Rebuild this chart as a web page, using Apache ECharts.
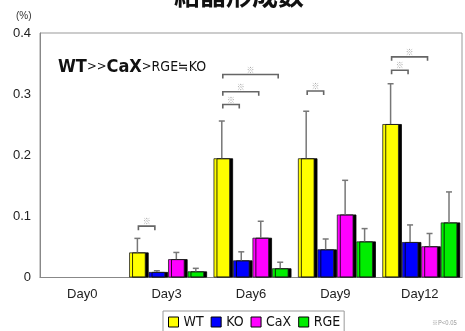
<!DOCTYPE html>
<html><head><meta charset="utf-8">
<script src="https://cdn.jsdelivr.net/npm/echarts@6/dist/echarts.min.js"></script>
<style>html,body{margin:0;padding:0;background:#fff}#c{width:465px;height:331px}</style>
</head><body><div id="c"></div>
<script>
const days = ['Day0', 'Day3', 'Day6', 'Day9', 'Day12'];
const seriesNames = ['WT', 'KO', 'CaX', 'RGE'];
const wt  = [0, 0.041, 0.195, 0.195, 0.251];
const ko  = [0, 0.009, 0.028, 0.046, 0.058];
const cax = [0, 0.030, 0.065, 0.103, 0.051];
const rge = [0, 0.010, 0.015, 0.059, 0.090];
const wtSD  = [0, 0.023, 0.061, 0.077, 0.066];
const koSD  = [0, 0.002, 0.014, 0.017, 0.028];
const caxSD = [0, 0.011, 0.027, 0.056, 0.021];
const rgeSD = [0, 0.005, 0.010, 0.021, 0.050];
const yTicks = [0, 0.1, 0.2, 0.3, 0.4];
// significance brackets: [dayIndex, fromSeries, toSeries, height]
const brackets = [[1,0,1,0.084],[2,0,1,0.283],[2,0,2,0.304],[2,0,3,0.332],[3,0,1,0.305],[4,0,1,0.339],[4,0,2,0.361]];

const colors = ['#ffff00', '#0000ff', '#ff00ff', '#00ee00'];
const means = [wt, ko, cax, rge];
const sds = [wtSD, koSD, caxSD, rgeSD];
const BW = 16.5, GAP = BW * 0.18;
const total = 4 * BW + 3 * GAP;
function offset(i) { return -total / 2 + i * (BW + GAP) + BW / 2; }
const NARROW = '"DejaVu Sans Condensed", "Liberation Sans", sans-serif';

const barSeries = seriesNames.map((n, i) => ({
  name: n, type: 'bar', barWidth: BW, barGap: '18%',
  data: means[i].map(v => v === 0 ? '-' : v),
  itemStyle: { color: colors[i], borderColor: '#222', borderWidth: 0.8,
    shadowColor: '#000', shadowBlur: 0, shadowOffsetX: 3, shadowOffsetY: 0 },
  emphasis: { disabled: true }, z: 2
}));

const errData = [];
means.forEach((m, i) => m.forEach((v, d) => { if (sds[i][d] > 0) errData.push([d, i, v, sds[i][d]]); }));

const errSeries = {
  type: 'custom', z: 5, silent: true, encode: { x: 0, y: 2 }, data: errData,
  renderItem: function (params, api) {
    const d = api.value(0), i = api.value(1), m = api.value(2), s = api.value(3);
    const x = api.coord([d, 0])[0] + offset(i);
    const yb = api.coord([d, m])[1];
    const yt = api.coord([d, m + s])[1];
    return { type: 'group', children: [
      { type: 'line', shape: { x1: x, y1: yb, x2: x, y2: yt }, style: { stroke: '#777', lineWidth: 1.5 } },
      { type: 'line', shape: { x1: x - 3, y1: yt, x2: x + 3, y2: yt }, style: { stroke: '#777', lineWidth: 1.5 } }
    ]};
  }
};

const brSeries = {
  type: 'custom', z: 6, silent: true, encode: { x: 0, y: 3 }, data: brackets,
  renderItem: function (params, api) {
    const d = api.value(0), a = api.value(1), b = api.value(2), h = api.value(3);
    const c = api.coord([d, h]);
    const x1 = c[0] + offset(a) + 1, x2 = c[0] + offset(b) - 2, y = c[1];
    return { type: 'group', children: [
      { type: 'polyline', shape: { points: [[x1, y + 4], [x1, y], [x2, y], [x2, y + 4]] },
        style: { stroke: '#666', lineWidth: 1.6, fill: null } },
      { type: 'text', x: (x1 + x2) / 2, y: y - 1,
        style: { text: '※', fill: '#aaa', fontSize: 8, align: 'center', verticalAlign: 'bottom', fontFamily: 'Noto Sans CJK JP' } }
    ]};
  }
};

const chart = echarts.init(document.getElementById('c'), null, { renderer: 'canvas' });
chart.setOption({
  animation: false,
  backgroundColor: '#fff',
  grid: { left: 40, right: 3, top: 33, bottom: 53.5, show: true, borderColor: '#999', borderWidth: 1 },
  xAxis: { type: 'category', data: days,
    axisLine: { lineStyle: { color: '#888', width: 1 } }, axisTick: { show: false },
    axisLabel: { color: '#222', fontSize: 13, margin: 10, fontFamily: 'Liberation Sans' } },
  yAxis: { type: 'value', min: yTicks[0], max: yTicks[yTicks.length - 1], interval: 0.1,
    splitLine: { show: false }, axisTick: { show: false },
    axisLine: { show: true, lineStyle: { color: '#888' } },
    axisLabel: { color: '#222', fontSize: 13, margin: 9, fontFamily: 'Liberation Sans',
      formatter: v => v === 0 ? '0' : v.toFixed(1) } },
  legend: { data: seriesNames, left: 163, top: 311, padding: [4, 4, 4, 5],
    borderColor: '#999', borderWidth: 1, itemWidth: 10, itemHeight: 10, itemGap: 7,
    icon: 'rect',
    itemStyle: { borderColor: '#000', borderWidth: 1, shadowColor: 'transparent', shadowOffsetX: 0 },
    textStyle: { fontSize: 14, color: '#111', fontFamily: NARROW } },
  graphic: [
    { type: 'text', x: 239, y: -18, style: { text: '結晶形成数', fontSize: 26, fontWeight: 'bold', fill: '#111', align: 'center', verticalAlign: 'top', fontFamily: 'Noto Sans CJK JP' } },
    { type: 'text', x: 16, y: 11, style: { text: '(%)', fontSize: 10, fill: '#333', fontFamily: 'Liberation Sans' } },
    { type: 'text', x: 58, y: 67, style: {
        text: '{a|WT}{b|>>}{a|CaX}{b|>}{c|RGE≒KO}', verticalAlign: 'middle',
        rich: {
          a: { fontSize: 18, fontWeight: 'bold', fill: '#111', fontFamily: NARROW },
          b: { fontSize: 13, fill: '#111', fontFamily: NARROW },
          c: { fontSize: 14, fill: '#111', fontFamily: NARROW }
        } } },
    { type: 'text', x: 432, y: 320, style: { text: '※P<0.05', fontSize: 6, fill: '#999', fontFamily: 'Noto Sans CJK JP' } }
  ],
  series: barSeries.concat([errSeries, brSeries])
});
</script></body></html>
